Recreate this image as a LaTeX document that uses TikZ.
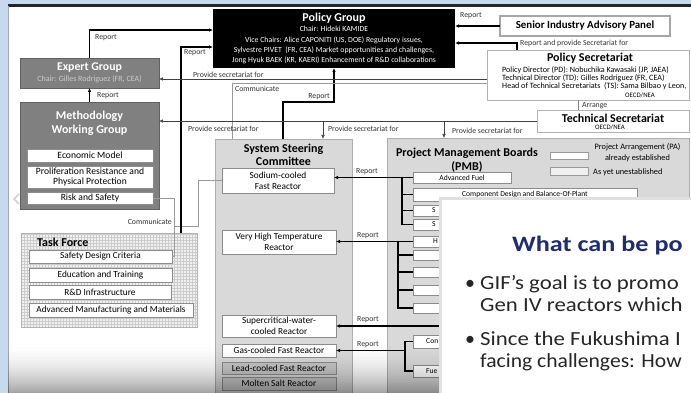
\documentclass[tikz,border=0pt]{standalone}
\usepackage{fontspec}
\usepackage{graphicx}
\setmainfont{Carlito}
\usetikzlibrary{arrows.meta,patterns}
\definecolor{bgblue}{RGB}{198,217,238}
\definecolor{navy}{RGB}{32,44,112}
\newcommand{\fsz}[2]{\fontsize{#1}{#2}\selectfont}
\begin{document}
\begin{tikzpicture}[x=1pt,y=-1pt,
 >={Latex[length=4pt,width=3.6pt]},
 bx/.style={rectangle, anchor=north west, inner sep=0pt, outer sep=0pt, align=center},
 sz/.style 2 args={minimum width=#1pt, minimum height=#2pt},
 wbox/.style={bx, fill=white, draw=black!45, line width=0.6pt, font=\fsz{9.3}{11}},
 gbox/.style={bx, fill=black!22, draw=black!45, line width=0.6pt, font=\fsz{9.3}{11}},
 mbox/.style={bx, fill=white, draw=black!45, line width=0.6pt, font=\fsz{9.6}{11}},
 pbox/.style={bx, fill=white, draw=black!45, line width=0.6pt, font=\fsz{7.6}{9}},
 darkbox/.style={bx, fill=black!50, draw=black!62, line width=0.8pt, text=white},
 panel/.style={bx, fill=black!15, draw=black!32, line width=0.8pt},
 lbl/.style={font=\fsz{7.8}{9}, inner sep=0pt, anchor=west, text=black!80},
 ttl/.style={font=\fsz{12}{13.5}\bfseries, inner sep=0pt, align=center},
 ovt/.style={anchor=base west, inner sep=0pt, font=\fsz{20}{24}, text=black!85},
 rep/.style={line width=1.6pt, ->},
 con/.style={line width=0.6pt, black!75, ->},
 comm/.style={line width=0.8pt, black!40},
 tree/.style={line width=1.1pt}]
\useasboundingbox (0,0) rectangle (691,393);
% background
\fill[bgblue] (0,0) rectangle (691,393);
\fill[white] (8,5) rectangle (691,393);
\draw[line width=2.2pt, black!85] (8,5.5) -- (691,5.5);
\draw[black!35, line width=0.6pt] (8.3,6) -- (8.3,393);
\draw[black!18, line width=1.5pt] (19,194) -- (14,199) -- (19,204);

% Policy Group
\node[bx, sz={242}{59}, fill=black, text=white, font=\fsz{7.8}{10.4}] (pg) at (213,9)
 {{\fsz{12}{12}\bfseries Policy Group}\\
  Chair: Hideki KAMIDE\\
  Vice Chairs: Alice CAPONITI (US, DOE) Regulatory issues,\\
  Sylvestre PIVET\ \ (FR, CEA) Market opportunities and challenges,\\
  Jong Hyuk BAEK (KR, KAERI) Enhancement of R\&D collaborations};

% Senior panel
\node[bx, sz={170}{20}, fill=white, draw=black!35, line width=1.3pt, font=\fsz{10.9}{12}\bfseries] (sp) at (500,16) {Senior Industry Advisory Panel};

% Policy Secretariat
\node[bx, sz={202}{50}, fill=white, draw=black!30, line width=0.6pt] (ps) at (487,50) {};
\node[ttl] (pst) at (590,58.5) {Policy Secretariat};
\node[inner sep=0pt, anchor=north west, align=left, font=\fsz{8.1}{8.3}] (psx) at (502,66)
 {Policy Director (PD): Nobuchika Kawasaki (JP, JAEA)\\
  Technical Director (TD): Gilles Rodriguez (FR, CEA)\\
  Head of Technical Secretariats\ \ (TS): Sama Bilbao y Leon,};
\node[inner sep=0pt, font=\fsz{6.8}{8.3}] (pso) at (640,95) {OECD/NEA};

% Technical Secretariat
\node[bx, sz={152}{22}, fill=white, draw=black!30, line width=0.6pt] (ts) at (537,110) {};
\node[ttl] (tst) at (613,118) {Technical Secretariat};
\node[inner sep=0pt, font=\fsz{6.8}{8.3}] (tso) at (610,127.5) {OECD/NEA};

% Expert group
\node[darkbox, sz={139}{30}] (eg) at (20,58)
 {{\fsz{11.8}{13}\bfseries Expert Group}\\[-1.5pt]{\fsz{8}{9}\color{black!20}Chair: Gilles Rodriguez (FR, CEA)}};

% Methodology WG
\node[darkbox, sz={139}{107}] (mwg) at (20,102) {};
\node[inner sep=0pt, align=center, text=white, font=\fsz{12}{14}\bfseries] (mwgt) at (89.5,123) {Methodology\\Working Group};
\node[mbox, sz={126}{13}] (em) at (27,149) {Economic Model};
\node[mbox, sz={126}{22}] (prpp) at (27,166) {Proliferation Resistance and\\[-1pt]Physical Protection};
\node[mbox, sz={126}{12}] (rs) at (27,192) {Risk and Safety};

% Task Force
\node[bx, sz={176}{94}, fill=black!6] (tf) at (21,233) {};
\fill[pattern=grid, pattern color=black!20] (tf.north west) rectangle (tf.south east);
\draw[black!30, line width=0.6pt] (tf.north west) rectangle (tf.south east);
\node[font=\fsz{12}{13}\bfseries, inner sep=0pt, anchor=west] (tft) at (37,242) {Task Force};
\node[wbox, sz={143}{13}] (sdc) at (29,250) {Safety Design Criteria};
\node[wbox, sz={143}{14}] (et) at (29,268) {Education and Training};
\node[wbox, sz={142}{14}] (rdi) at (29,285) {R\&D Infrastructure};
\node[wbox, sz={164}{14}] (amm) at (29,303) {Advanced Manufacturing and Materials};

% System Steering Committee
\node[panel, sz={137}{256}] (ssc) at (215,139) {};
\node[ttl] (ssct) at (283.5,155) {System Steering\\Committee};
\node[wbox, sz={112}{25}] (sfr) at (222,168) {Sodium-cooled\\Fast Reactor};
\node[wbox, sz={114}{24}] (vhtr) at (222,230) {Very High Temperature\\Reactor};
\node[wbox, sz={114}{22}] (scwr) at (222,315) {Supercritical-water-\\cooled Reactor};
\node[wbox, sz={114}{13}] (gfr) at (222,344) {Gas-cooled Fast Reactor};
\node[gbox, sz={114}{12}] (lfr) at (222,362) {Lead-cooled Fast Reactor};
\node[gbox, sz={114}{13}] (msr) at (222,377) {Molten Salt Reactor};

% PMB panel
\node[panel, sz={302}{257}] (pmb) at (387,138) {};
\node[ttl] (pmbt) at (467,160) {Project Management Boards\\(PMB)};
\node[bx, sz={38}{7}, fill=white, draw=black!40, line width=0.5pt] (lg1) at (550,152) {};
\node[inner sep=0pt, align=center, font=\fsz{8.3}{11}] (lg1t) at (637.5,152.5) {Project Arrangement (PA)\\already established};
\node[bx, sz={38}{8}, fill=black!6, draw=black!40, line width=0.5pt] (lg2) at (550,167) {};
\node[inner sep=0pt, anchor=west, font=\fsz{8.3}{10}] (lg2t) at (593,172) {As yet unestablished};

\node[pbox, sz={98}{11}] (af) at (413,172) {Advanced Fuel};
\node[pbox, sz={224}{13}] (cd) at (413,188) {Component Design and Balance-Of-Plant};
\node[pbox, sz={60}{11}] (s1) at (413,205) {};
\node[pbox, sz={60}{11}] (s2) at (413,219) {};
\node[pbox, sz={60}{11}] (h1) at (413,236) {};
\node[pbox, sz={60}{10}] (v2) at (413,250) {};
\node[pbox, sz={60}{10}] (v3) at (413,267) {};
\node[pbox, sz={60}{10}] (v4) at (413,285) {};
\node[pbox, sz={60}{10}] (v5) at (413,303) {};
\node[pbox, sz={60}{13}] (con) at (413,335) {};
\node[pbox, sz={60}{12}] (fue) at (413,365) {};
\node[inner sep=0pt, anchor=west, font=\fsz{7.6}{9}] at (432,210.5) {S};
\node[inner sep=0pt, anchor=west, font=\fsz{7.6}{9}] at (432,224.5) {S};
\node[inner sep=0pt, anchor=west, font=\fsz{7.6}{9}] at (433,241.5) {H};
\node[inner sep=0pt, anchor=west, font=\fsz{7.6}{9}] at (426,341.5) {Con};
\node[inner sep=0pt, anchor=west, font=\fsz{7.6}{9}] at (426,371) {Fue};

% PMB trees and reports
\draw[tree,->] (af.west) -- (sfr.east |- af.west);
\draw[tree] (af.west -| 402,0) |- (s2.west);
\draw[tree] (402,0 |- cd.west) -- (cd.west);
\draw[tree] (402,0 |- s1.west) -- (s1.west);
\draw[tree,->] (h1.west) -- (vhtr.east |- h1.west);
\draw[tree] (h1.west -| 398,0) |- (v5.west);
\draw[tree] (398,0 |- v2.west) -- (v2.west);
\draw[tree] (398,0 |- v3.west) -- (v3.west);
\draw[tree] (398,0 |- v4.west) -- (v4.west);
\coordinate (scwrp) at (470,326);
\draw[tree,->] (scwrp) -- (scwr.east |- scwrp);
\coordinate (gfrj) at (405,350.5);
\draw[tree,->] (gfrj) -- (gfr.east);
\draw[tree] (con.west) -| (gfrj) |- (fue.west);
\node[lbl] at (356,172) {Report};
\node[lbl] at (357,236) {Report};
\node[lbl] at (357,320) {Report};
\node[lbl] at (357,345) {Report};

% Communicate lines on the left
\draw[comm] (rs.east) -| (174,256.5) -- (sdc.east);
\draw[comm] (sfr.west) -| (198,226) -- (174,226);
\node[lbl, anchor=east] at (172,222) {Communicate};

% Report arrows to Policy Group
\draw[rep] (eg.north) |- (pg.west |- 0,30);
\node[lbl] at (95,38) {Report};
\draw[line width=1.2pt,->] (mwg.north) -- (eg.south);
\node[lbl] at (97,96) {Report};
\draw[rep] (tf.north -| 181,0) |- (pg.west |- 0,47);
\node[lbl] at (184,53) {Report};
\draw[rep] (ssc.north -| 283,0) |- (334,102) -- (pg.south -| 334,0);
\node[lbl, anchor=east] at (330,97) {Report};
\draw[rep] (sp.west) -- (pg.east |- sp.west);
\node[lbl] at (460,16) {Report};
\draw[rep] (ps.north -| 517,0) |- (pg.east |- 0,43);
\node[lbl] at (520,43) {Report and provide Secretariat for};

% Secretariat lines
\draw[con] (ps.west |- 0,79) -- (eg.east |- 0,79);
\node[lbl] at (193,74.5) {Provide secretariat for};
\draw[comm] (ps.west |- 0,83) -| (ssc.north -| 232,0);
\node[lbl] at (235,89) {Communicate};
\draw[black!50, line width=0.6pt] (ps.south -| 578,0) -- (ts.north -| 578,0);
\node[lbl] at (582,106) {Arrange};
\draw[con] (ts.west) -- (mwg.east |- ts.west);
\draw[con] (323,0 |- ts.west) -- (ssc.north -| 323,0);
\draw[con] (444,0 |- ts.west) -- (pmb.north -| 444,0);
\node[lbl] at (188,129) {Provide secretariat for};
\node[lbl] at (328,129) {Provide secretariat for};
\node[lbl] at (452,131) {Provide secretariat for};

% bottom shading (screen fade)
\foreach \i in {0,...,26}
  \fill[black, fill opacity={0.36*(\i/26)*(\i/26)}] (8,{340+2*\i}) rectangle (442,{342+2*\i});

% overlay slide
\fill[black!12] (439,197) rectangle (691,393);
\fill[white] (442,200) rectangle (691,393);
\node[anchor=base west, inner sep=0pt, font=\fsz{22}{26}\bfseries, text=navy] (ov) at (512,251) {\scalebox{1.19}[1]{What can be po}};
\node[ovt] (b1) at (465,289) {•};
\node[ovt] (l1) at (480,289) {\scalebox{1.14}[1]{GIF’s goal is to promo}};
\node[ovt] (l2) at (480,311) {\scalebox{1.14}[1]{Gen IV reactors which}};
\node[ovt] (b2) at (465,345) {•};
\node[ovt] (l3) at (480,345) {\scalebox{1.14}[1]{Since the Fukushima I}};
\node[ovt] (l4) at (480,367) {\scalebox{1.08}[1]{facing challenges: How}};
\end{tikzpicture}
\end{document}
